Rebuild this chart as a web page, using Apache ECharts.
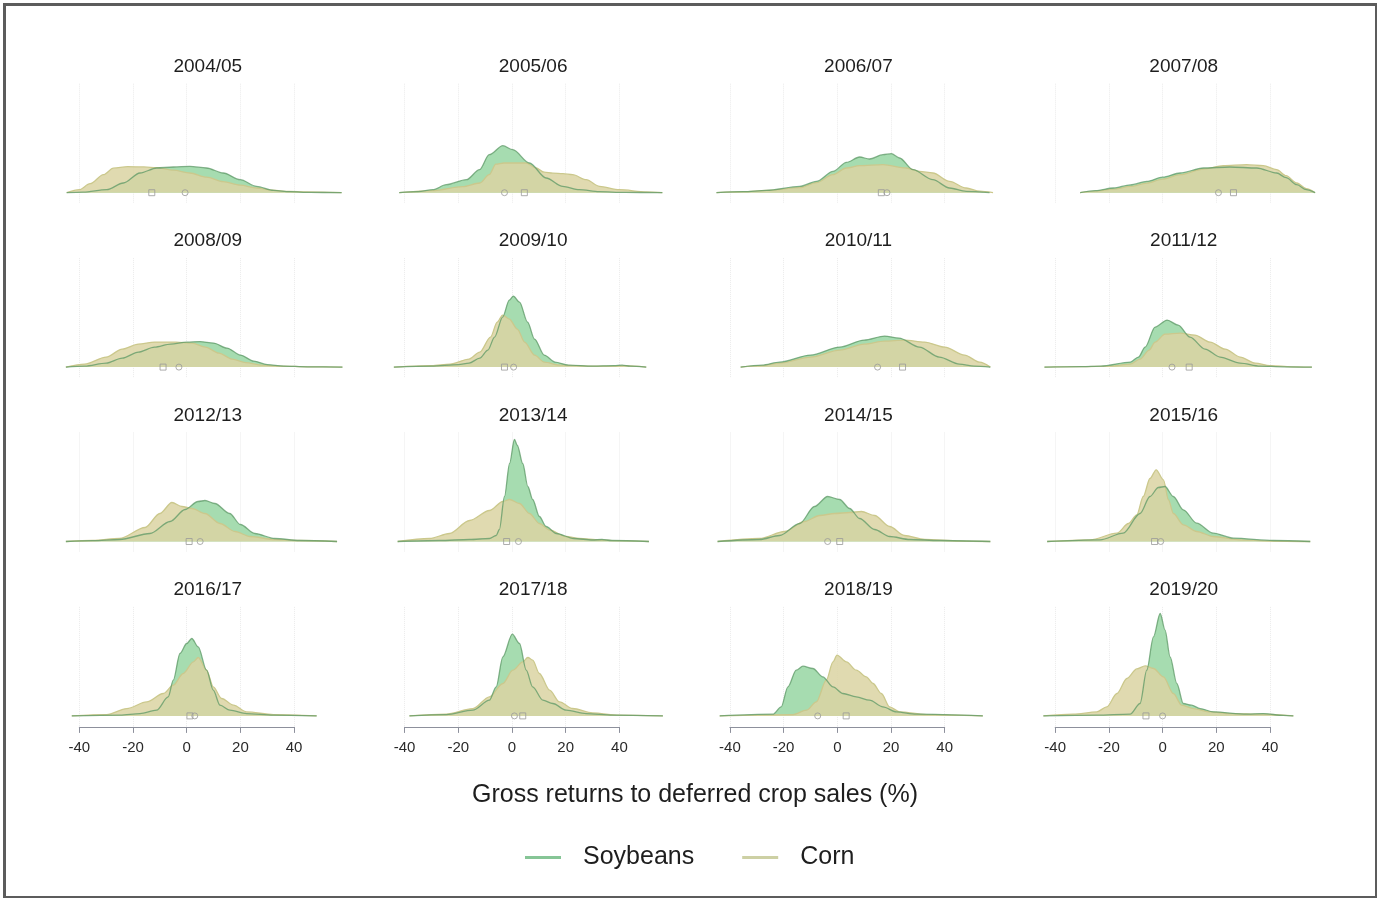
<!DOCTYPE html>
<html>
<head>
<meta charset="utf-8">
<script src="https://cdn.jsdelivr.net/npm/echarts@6/dist/echarts.min.js"></script>
<style>
  html, body { margin: 0; padding: 0; background: #fff; }
  #chart { width: 1377px; height: 898px; }
</style>
</head>
<body>
<div id="chart"></div>
<script>
// Marketing seasons shown as small multiples (4 x 4)
const seasons = ['2004/05', '2005/06', '2006/07', '2007/08',
                 '2008/09', '2009/10', '2010/11', '2011/12',
                 '2012/13', '2013/14', '2014/15', '2015/16',
                 '2016/17', '2017/18', '2018/19', '2019/20'];

// Kernel density of gross returns (%), [return, density]
const soy2004 = [[-44.7,0],[-38.6,0.0005],[-29.8,0.003],[-23.6,0.0097],[-17.4,0.0197],[-11.2,0.0247],[-5,0.0257],[1.2,0.0263],[7.4,0.0247],[13.6,0.0197],[19.9,0.013],[26,0.0063],[32.3,0.0023],[38.5,0.001],[46,0.0003],[57.7,0]];
const corn2004 = [[-44.7,0],[-40,0.003],[-36,0.009],[-31,0.018],[-27.3,0.0245],[-22,0.026],[-16,0.0258],[-11.2,0.025],[-5,0.0225],[1.2,0.0197],[7.4,0.0155],[13.6,0.011],[19.9,0.0075],[26,0.0047],[32,0.0025],[38,0.0012],[44.7,0.0008],[57.7,0]];

const soy2005 = [[-42,0],[-35,0.001],[-29.5,0.003],[-24.5,0.008],[-17,0.013],[-12.1,0.023],[-8.5,0.038],[-3.4,0.047],[0.3,0.043],[6.5,0.0297],[12.7,0.0147],[18.9,0.0063],[25.1,0.003],[32.5,0.001],[42,0.0003],[56,0]];
const corn2005 = [[-42,0],[-29.5,0.002],[-18.4,0.006],[-12,0.0097],[-8.5,0.018],[-6,0.0285],[-3,0.0297],[0.2,0.0297],[5.3,0.0297],[8.9,0.0247],[12,0.0205],[15.2,0.0195],[19,0.019],[22.6,0.018],[27.6,0.013],[32.6,0.0063],[40,0.003],[50,0.0008],[56,0]];

const soy2006 = [[-45,0],[-35,0.001],[-26.4,0.0023],[-14,0.0063],[-7.8,0.0113],[-1.6,0.0213],[3.4,0.0303],[8.3,0.0357],[12,0.0337],[17,0.038],[20.1,0.039],[23.2,0.0347],[28.2,0.023],[35.6,0.013],[41.8,0.0047],[48,0.0013],[56.7,0]];
const corn2006 = [[-45,0],[-35,0.001],[-26.4,0.0023],[-14,0.005],[-7.8,0.01],[-1.7,0.018],[3.4,0.0247],[8.3,0.027],[17,0.028],[25.7,0.0247],[30.6,0.0213],[35.6,0.0197],[41.8,0.0113],[48,0.0047],[53,0.0015],[58,0]];

const soy2007 = [[-30.7,0],[-25,0.002],[-18.3,0.0047],[-12,0.0078],[-5.9,0.0113],[0,0.0155],[6.5,0.0197],[15.2,0.0247],[25.1,0.0257],[35.1,0.0247],[42.5,0.0197],[46,0.015],[50,0.008],[53.5,0.003],[56.8,0]];
const corn2007 = [[-30.7,0],[-25,0.0015],[-18.3,0.0035],[-12,0.0063],[-5.9,0.0095],[0,0.0135],[6.5,0.018],[15.2,0.0237],[22.6,0.027],[31.3,0.028],[37.5,0.027],[42.5,0.023],[46,0.017],[50,0.0097],[53.5,0.004],[56.8,0]];

const soy2008 = [[-45,0],[-38,0.001],[-30,0.004],[-24,0.009],[-18,0.015],[-12,0.02],[-6,0.023],[0,0.025],[5,0.0255],[10,0.024],[15,0.019],[20,0.012],[25,0.006],[30,0.0025],[36,0.001],[45,0.0003],[58,0]];
const corn2008 = [[-45,0],[-38,0.003],[-30,0.01],[-24,0.018],[-18,0.023],[-12,0.025],[-4,0.025],[2,0.024],[7,0.02],[12,0.014],[17,0.008],[22,0.0045],[28,0.002],[35,0.001],[45,0.0003],[58,0]];

const soy2009 = [[-44,0],[-30,0.001],[-20,0.0025],[-16,0.004],[-12,0.009],[-9,0.017],[-6.5,0.03],[-3.5,0.05],[-1,0.067],[0.5,0.071],[2.8,0.065],[5.8,0.045],[8.4,0.028],[12,0.012],[16,0.005],[21,0.002],[30,0.001],[38,0.0015],[41,0.002],[44,0.001],[50,0]];
const corn2009 = [[-44,0],[-30,0.0015],[-23,0.003],[-16,0.008],[-12,0.015],[-8,0.03],[-5.5,0.045],[-3.5,0.052],[-1,0.048],[2,0.038],[4.7,0.025],[8.4,0.012],[12,0.005],[17.7,0.002],[30,0.001],[38,0.001],[42,0.0015],[50,0]];

const soy2010 = [[-36,0],[-28,0.002],[-21.5,0.005],[-10,0.012],[0.9,0.02],[10,0.027],[17.6,0.031],[23,0.029],[30.6,0.02],[38,0.01],[45.5,0.003],[51,0.001],[57,0]];
const corn2010 = [[-36,0],[-28,0.0015],[-21.5,0.004],[-10,0.01],[0.9,0.017],[10,0.023],[17.6,0.026],[25,0.027],[32.5,0.025],[40,0.02],[47.4,0.012],[53,0.005],[57,0]];

const soy2011 = [[-44,0],[-30,0.0005],[-23,0.001],[-12,0.005],[-9,0.01],[-6.5,0.02],[-2.8,0.04],[1.7,0.047],[5.8,0.042],[10.2,0.03],[15.8,0.018],[21.4,0.01],[28.9,0.004],[36.3,0.001],[45,0.0003],[55.6,0]];
const corn2011 = [[-44,0],[-30,0.0005],[-19.5,0.001],[-12,0.003],[-8.4,0.008],[-5,0.017],[-2.8,0.025],[0.9,0.033],[6.5,0.034],[12,0.032],[17.7,0.025],[23.3,0.018],[28.9,0.01],[34.5,0.004],[40,0.0015],[48,0.0003],[55.6,0]];

const soy2012 = [[-45,0],[-35,0.0008],[-25,0.002],[-13.7,0.008],[-6.2,0.02],[-0.6,0.032],[4.2,0.04],[6.8,0.041],[10.5,0.038],[16,0.028],[20,0.017],[25.4,0.008],[32.8,0.003],[42,0.001],[56,0]];
const corn2012 = [[-45,0],[-35,0.001],[-25,0.003],[-15.5,0.014],[-10,0.028],[-5.5,0.039],[-1.8,0.035],[2,0.033],[6.8,0.028],[12.4,0.018],[18,0.01],[23.6,0.005],[32.8,0.002],[42,0.001],[56,0]];

const soy2013 = [[-42.6,0],[-27,0.001],[-15.8,0.002],[-8.4,0.003],[-5.9,0.006],[-4.7,0.012],[-2.8,0.045],[-0.9,0.078],[0.9,0.102],[2,0.096],[4,0.078],[5.9,0.055],[7.7,0.042],[10.2,0.025],[12.7,0.015],[16.5,0.008],[23,0.003],[30,0.0015],[33.5,0.002],[37,0.001],[51,0]];
const corn2013 = [[-42.6,0],[-30.7,0.003],[-23.3,0.008],[-15.8,0.021],[-8.4,0.031],[-3.4,0.04],[-0.9,0.042],[2.8,0.038],[6.5,0.028],[10.2,0.018],[14,0.0115],[20,0.005],[25,0.003],[32.6,0.0015],[40,0.0008],[51,0]];

const soy2014 = [[-44.6,0],[-29,0.002],[-21.5,0.006],[-14,0.018],[-8.5,0.035],[-3.6,0.045],[0.9,0.042],[4.6,0.033],[8.3,0.023],[13.9,0.012],[19.5,0.005],[27,0.002],[38,0.001],[57,0]];
const corn2014 = [[-44.6,0],[-29,0.003],[-19.6,0.01],[-12.2,0.02],[-6.6,0.026],[-1,0.028],[4.6,0.029],[9,0.03],[13.9,0.026],[19.5,0.015],[25,0.006],[32.5,0.002],[45.5,0.0005],[57,0]];

const soy2015 = [[-43,0],[-23.3,0.0017],[-14.7,0.0083],[-8.4,0.028],[-4.7,0.045],[-1.6,0.054],[0.9,0.055],[4,0.045],[7.7,0.0317],[12.7,0.0183],[18.9,0.0083],[26.4,0.0033],[41.3,0.001],[55,0]];
const corn2015 = [[-43,0],[-27,0.0017],[-17,0.0083],[-12.7,0.018],[-9.6,0.0267],[-7.2,0.045],[-4.7,0.063],[-2.4,0.0717],[0.3,0.0617],[2.2,0.0417],[4,0.028],[7.7,0.0167],[12.7,0.01],[18.9,0.005],[28.9,0.0017],[40,0.0005],[55,0]];

const soy2016 = [[-42.8,0],[-24.8,0.0007],[-17.4,0.0023],[-11.2,0.0057],[-6.9,0.019],[-5,0.0357],[-2.5,0.0624],[0,0.0724],[1.9,0.0774],[4.3,0.069],[7.4,0.0457],[9.9,0.0257],[12.4,0.0107],[16.1,0.0057],[22.3,0.0023],[32.3,0.0007],[48.4,0]];
const corn2016 = [[-42.8,0],[-29.8,0.0013],[-22.3,0.0073],[-14.9,0.014],[-8.7,0.0224],[-5,0.0307],[-1.3,0.0424],[2.5,0.054],[4.3,0.0584],[7.4,0.0457],[9.9,0.029],[13,0.0174],[17.4,0.0107],[22.3,0.004],[32.3,0.0013],[48.4,0]];

const soy2017 = [[-38.2,0],[-24.5,0.0013],[-14.6,0.0057],[-8.4,0.0157],[-5.9,0.029],[-3.4,0.059],[0.1,0.0817],[2.8,0.0724],[5.3,0.0457],[7.7,0.029],[11.5,0.0157],[15.2,0.0124],[20.2,0.0057],[27.6,0.0023],[37.5,0.0007],[56.2,0]];
const corn2017 = [[-38.2,0],[-24.5,0.0017],[-14.6,0.0073],[-8.4,0.019],[-3.4,0.0324],[0.3,0.0457],[4,0.054],[5.9,0.0584],[7.7,0.0557],[10.2,0.0424],[14,0.0257],[17.7,0.014],[22.6,0.0074],[30,0.003],[40,0.0007],[56.2,0]];

const soy2018 = [[-43.8,0],[-24,0.0017],[-20.9,0.009],[-18.4,0.029],[-15.3,0.0457],[-12.8,0.0497],[-9.1,0.0474],[-5.4,0.039],[-1.6,0.029],[2.1,0.0224],[7.1,0.019],[12,0.0157],[17,0.009],[22,0.004],[29.4,0.0017],[54.2,0]];
const corn2018 = [[-43.8,0],[-16.5,0.0013],[-11.5,0.0057],[-7.8,0.014],[-4.1,0.0357],[-1.6,0.054],[-0.1,0.0607],[3.4,0.054],[7.1,0.0457],[10.8,0.039],[13.3,0.0324],[16.4,0.0224],[19.5,0.009],[23.2,0.004],[33.1,0.0013],[54.2,0]];

const soy2019 = [[-44.4,0],[-24.5,0.0007],[-12.1,0.0017],[-8.4,0.0124],[-5.9,0.0457],[-3.4,0.079],[-0.9,0.1024],[0.9,0.086],[2.8,0.059],[5.3,0.0324],[7.7,0.0124],[10.8,0.0107],[14,0.0073],[18.9,0.004],[31.4,0.0017],[37.5,0.0023],[45,0.0005],[48.7,0]];
const corn2019 = [[-44.4,0],[-33.3,0.0017],[-24.5,0.004],[-20.8,0.009],[-17,0.0224],[-13.3,0.0374],[-9.6,0.047],[-6.5,0.05],[-3.4,0.0474],[0.3,0.039],[4,0.0224],[7.1,0.0107],[11.5,0.0073],[17.7,0.004],[25.1,0.0023],[37.5,0.0017],[48.7,0]];

// Mean return per season (circle = soybeans, square = corn)
const soyMeans  = [-0.6, -2.8, 18.5, 20.8, -2.9, 0.6, 15, 3.5, 5, 2.4, -3.6, -0.7, 3, 0.9, -7.3, 0];
const cornMeans = [-13, 4.6, 16.4, 26.4, -8.8, -2.8, 24.3, 9.9, 0.9, -2, 0.9, -3, 1.2, 4, 3.3, -6.2];

// Axis ticks along the bottom row
const xTicks = [-40, -20, 0, 20, 40];

const soyCurves = [soy2004, soy2005, soy2006, soy2007, soy2008, soy2009, soy2010, soy2011,
                   soy2012, soy2013, soy2014, soy2015, soy2016, soy2017, soy2018, soy2019];
const cornCurves = [corn2004, corn2005, corn2006, corn2007, corn2008, corn2009, corn2010, corn2011,
                    corn2012, corn2013, corn2014, corn2015, corn2016, corn2017, corn2018, corn2019];

// ---- layout ----
const FONT = '"Liberation Sans", Arial, Helvetica, sans-serif';
const ZERO0 = 186.7, COL_STEP = 325.3, PX_PER_UNIT = 2.685;
const BASE0 = 192.7, ROW_STEP = 174.4, PX_PER_DENS = 1000;
const X_MIN = -46, X_MAX = 58, Y_MIN = -0.004, Y_MAX = 0.109;

const SOY_LINE = 'rgba(92,152,102,0.75)', SOY_FILL = '#a6dcb0';
const CORN_LINE = '#cbc88c', CORN_FILL = 'rgba(219,212,163,0.86)';

const grid = [], xAxis = [], yAxis = [], series = [], title = [];

seasons.forEach((season, i) => {
  const r = Math.floor(i / 4), c = i % 4;
  const zero = ZERO0 + COL_STEP * c;
  const base = BASE0 + ROW_STEP * r;
  const isBottom = r === 3;

  // data panel
  const gi = grid.length;
  grid.push({
    left: zero + X_MIN * PX_PER_UNIT,
    width: (X_MAX - X_MIN) * PX_PER_UNIT,
    top: base - Y_MAX * PX_PER_DENS,
    height: (Y_MAX - Y_MIN) * PX_PER_DENS,
    outerBoundsMode: 'none'
  });
  xAxis.push({ type: 'value', gridIndex: gi, min: X_MIN, max: X_MAX, show: false });
  yAxis.push({ type: 'value', gridIndex: gi, min: Y_MIN, max: Y_MAX, show: false });

  // reference lines / bottom axis panel
  const ai = grid.length;
  const gTop = base - Y_MAX * PX_PER_DENS;
  grid.push({
    left: zero + xTicks[0] * PX_PER_UNIT,
    width: (xTicks[xTicks.length - 1] - xTicks[0]) * PX_PER_UNIT,
    top: gTop,
    height: base + 11 - gTop,
    outerBoundsMode: 'none'
  });
  xAxis.push({
    type: 'value', gridIndex: ai,
    min: xTicks[0], max: xTicks[xTicks.length - 1], interval: 20,
    axisLine: { show: isBottom, lineStyle: { color: '#8d909c', width: 1 } },
    axisTick: { show: isBottom, length: 6, lineStyle: { color: '#8d909c' } },
    axisLabel: { show: isBottom, color: '#2a2a2a', fontSize: 15, fontFamily: FONT, margin: 13 },
    splitLine: { show: true, lineStyle: { color: '#ebebeb', width: 1, type: 'dotted' } }
  });
  yAxis.push({ type: 'value', gridIndex: ai, show: false, splitLine: { show: false } });

  // soybean fill, corn fill, then the soybean outline drawn over both
  series.push({
    type: 'line', name: 'Soybeans', xAxisIndex: gi, yAxisIndex: gi,
    data: soyCurves[i], smooth: 0.3, smoothMonotone: 'x', symbol: 'none',
    lineStyle: { width: 0, opacity: 0 },
    areaStyle: { color: SOY_FILL, opacity: 1 },
    z: 2, silent: true
  });
  series.push({
    type: 'line', name: 'Corn', xAxisIndex: gi, yAxisIndex: gi,
    data: cornCurves[i], smooth: 0.3, smoothMonotone: 'x', symbol: 'none',
    lineStyle: { color: CORN_LINE, width: 1.3 },
    areaStyle: { color: CORN_FILL, opacity: 1 },
    z: 3, silent: true
  });
  series.push({
    type: 'line', name: 'Soybeans', xAxisIndex: gi, yAxisIndex: gi,
    data: soyCurves[i], smooth: 0.3, smoothMonotone: 'x', symbol: 'none',
    lineStyle: { color: SOY_LINE, width: 1.3 },
    z: 4, silent: true
  });
  series.push({
    type: 'scatter', name: 'Soybeans', xAxisIndex: gi, yAxisIndex: gi,
    data: [[soyMeans[i], 0]], symbol: 'circle', symbolSize: 6,
    itemStyle: { color: 'rgba(255,255,255,0)', borderColor: '#9a9a9a', borderWidth: 1 },
    z: 5, silent: true
  });
  series.push({
    type: 'scatter', name: 'Corn', xAxisIndex: gi, yAxisIndex: gi,
    data: [[cornMeans[i], 0]], symbol: 'rect', symbolSize: 6,
    itemStyle: { color: 'rgba(255,255,255,0)', borderColor: '#9a9a9a', borderWidth: 1 },
    z: 5, silent: true
  });

  title.push({
    text: season,
    left: zero + 6 * PX_PER_UNIT,
    top: base - 140.5,
    textAlign: 'center',
    textStyle: { fontSize: 19, fontWeight: 'normal', color: '#1e1e1e', fontFamily: FONT }
  });
});

title.push({
  text: 'Gross returns to deferred crop sales (%)',
  left: 690, top: 778, textAlign: 'center',
  textStyle: { fontSize: 25, fontWeight: 'normal', color: '#1e1e1e', fontFamily: FONT }
});

const chart = echarts.init(document.getElementById('chart'), null, { renderer: 'canvas' });
chart.setOption({
  backgroundColor: '#ffffff',
  animation: false,
  title,
  grid, xAxis, yAxis, series,
  legend: {
    left: 520, top: 840,
    itemWidth: 36, itemHeight: 3, itemGap: 48,
    selectedMode: false,
    textStyle: { fontSize: 25, color: '#1e1e1e', fontFamily: FONT, padding: [0, 0, 0, 17] },
    data: [
      { name: 'Soybeans', icon: 'rect', itemStyle: { color: '#86c596', borderWidth: 0 } },
      { name: 'Corn', icon: 'rect', itemStyle: { color: '#cdd0a4', borderWidth: 0 } }
    ]
  },
  graphic: [{
    type: 'rect', left: 2, top: 2, z: 100, silent: true,
    shape: { width: 1372, height: 893 },
    style: { fill: 'none', stroke: '#5c5c5c', lineWidth: 3 }
  }]
});
</script>
</body>
</html>
